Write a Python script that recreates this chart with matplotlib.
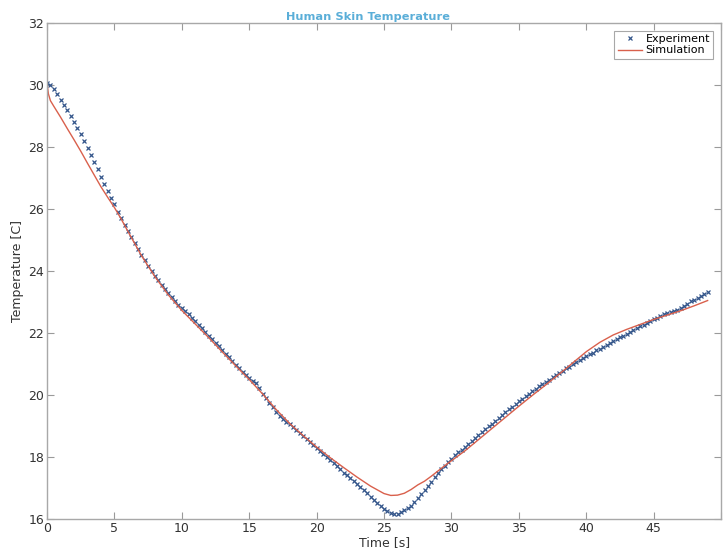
import numpy as np
import matplotlib
matplotlib.use("Agg")
import matplotlib.pyplot as plt

# measured skin temperature, sampled every 0.25 s
exp_time = np.arange(0, 49.01, 0.25)
exp_temp = [
    30.08, 30.00, 29.88, 29.71, 29.52, 29.36, 29.19, 29.01, 28.82, 28.62,
    28.41, 28.20, 27.98, 27.75, 27.52, 27.28, 27.05, 26.82, 26.58, 26.36,
    26.15, 25.92, 25.70, 25.48, 25.28, 25.09, 24.90, 24.71, 24.52, 24.35,
    24.18, 24.01, 23.85, 23.70, 23.55, 23.41, 23.28, 23.15, 23.02, 22.91,
    22.80, 22.70, 22.60, 22.49, 22.38, 22.27, 22.15, 22.04, 21.92, 21.80,
    21.68, 21.57, 21.45, 21.34, 21.22, 21.10, 20.98, 20.87, 20.75, 20.65,
    20.55, 20.46, 20.38, 20.24, 20.05, 19.90, 19.75, 19.62, 19.45, 19.33,
    19.22, 19.13, 19.05, 18.97, 18.88, 18.78, 18.68, 18.59, 18.50, 18.40,
    18.30, 18.20, 18.10, 18.00, 17.90, 17.80, 17.70, 17.60, 17.50, 17.41,
    17.32, 17.22, 17.12, 17.03, 16.93, 16.83, 16.72, 16.62, 16.52, 16.42,
    16.33, 16.25, 16.18, 16.15, 16.16, 16.21, 16.28, 16.35, 16.42, 16.55,
    16.68, 16.80, 16.93, 17.06, 17.19, 17.34, 17.48, 17.60, 17.72, 17.84,
    17.95, 18.05, 18.15, 18.24, 18.33, 18.43, 18.53, 18.62, 18.72, 18.81,
    18.90, 18.99, 19.08, 19.17, 19.27, 19.36, 19.45, 19.54, 19.63, 19.72,
    19.80, 19.88, 19.97, 20.05, 20.13, 20.21, 20.28, 20.36, 20.43, 20.50,
    20.58, 20.65, 20.72, 20.79, 20.86, 20.92, 20.99, 21.06, 21.12, 21.19,
    21.25, 21.31, 21.37, 21.44, 21.50, 21.56, 21.62, 21.69, 21.75, 21.80,
    21.86, 21.92, 21.98, 22.04, 22.10, 22.16, 22.22, 22.27, 22.33, 22.39,
    22.45, 22.50, 22.55, 22.60, 22.64, 22.68, 22.72, 22.76, 22.82, 22.88,
    22.95, 23.02, 23.08, 23.14, 23.20, 23.26, 23.32,
]

# simulated curve
sim_time = [0, 0.1, 0.25, 0.5, 1, 1.5, 2, 2.5, 3, 3.5, 4, 4.5, 5, 5.5, 6,
            7, 8, 9, 10, 11, 12, 13, 14, 15, 16, 17, 18, 19, 20, 21, 22,
            23, 24, 25, 25.5, 26, 26.5, 27, 27.5, 28, 28.5, 29, 29.5, 30,
            31, 32, 33, 34, 35, 36, 37, 38, 39, 40, 41, 42, 43, 44, 45,
            46, 47, 48, 49]
sim_temp = [30.05, 29.72, 29.50, 29.32, 28.97, 28.60, 28.24, 27.87, 27.48,
            27.10, 26.72, 26.38, 26.05, 25.68, 25.28, 24.50, 23.82, 23.23,
            22.73, 22.29, 21.85, 21.39, 20.94, 20.50, 20.03, 19.53, 19.08,
            18.69, 18.32, 17.98, 17.66, 17.35, 17.06, 16.82, 16.76, 16.77,
            16.83, 16.95, 17.10, 17.22, 17.38, 17.55, 17.72, 17.88, 18.20,
            18.56, 18.92, 19.28, 19.64, 19.99, 20.33, 20.68, 21.04, 21.40,
            21.70, 21.94, 22.12, 22.28, 22.44, 22.58, 22.72, 22.88, 23.05]

x_ticks = np.arange(0, 51, 5)
x_tick_labels = ['0', '5', '10', '15', '20', '25', '30', '35', '40', '45', '']
y_ticks = np.arange(16, 33, 2)

plt.rcParams['font.family'] = 'DejaVu Sans'

fig = plt.figure(figsize=(7.24, 5.53), dpi=100)
ax = fig.add_axes([0.065, 0.0615, 0.931, 0.8965])

ax.plot(exp_time, exp_temp, 'x', color='#33558a', markersize=3.5,
        markeredgewidth=0.9, label='Experiment')
ax.plot(sim_time, sim_temp, '-', color='#d9604c', linewidth=1.0,
        label='Simulation')

ax.set_xlim(0, 50)
ax.set_ylim(16, 32)
ax.set_xticks(x_ticks)
ax.set_xticklabels(x_tick_labels)
ax.set_yticks(y_ticks)

ax.tick_params(direction='in', top=True, right=True, length=5,
               width=0.8, color='#9a9a9a', labelcolor='#333333',
               labelsize=9, pad=2)
for spine in ax.spines.values():
    spine.set_edgecolor('#a8a8a8')
    spine.set_linewidth(1.0)

ax.set_title('Human Skin Temperature', fontsize=8.2, fontweight='bold',
             color='#5aaed8', pad=2, x=0.476)
ax.set_xlabel('Time [s]', fontsize=9, color='#333333', labelpad=1)
ax.set_ylabel('Temperature [C]', fontsize=9, color='#333333', labelpad=3)

leg = ax.legend(loc='upper right', fontsize=8, fancybox=False,
                edgecolor='#a8a8a8', framealpha=1, handlelength=2.2,
                handletextpad=0.3, borderpad=0.3, labelspacing=0.1,
                borderaxespad=0.7)
leg.get_frame().set_linewidth(0.8)

fig.savefig('out.png', dpi=100)
